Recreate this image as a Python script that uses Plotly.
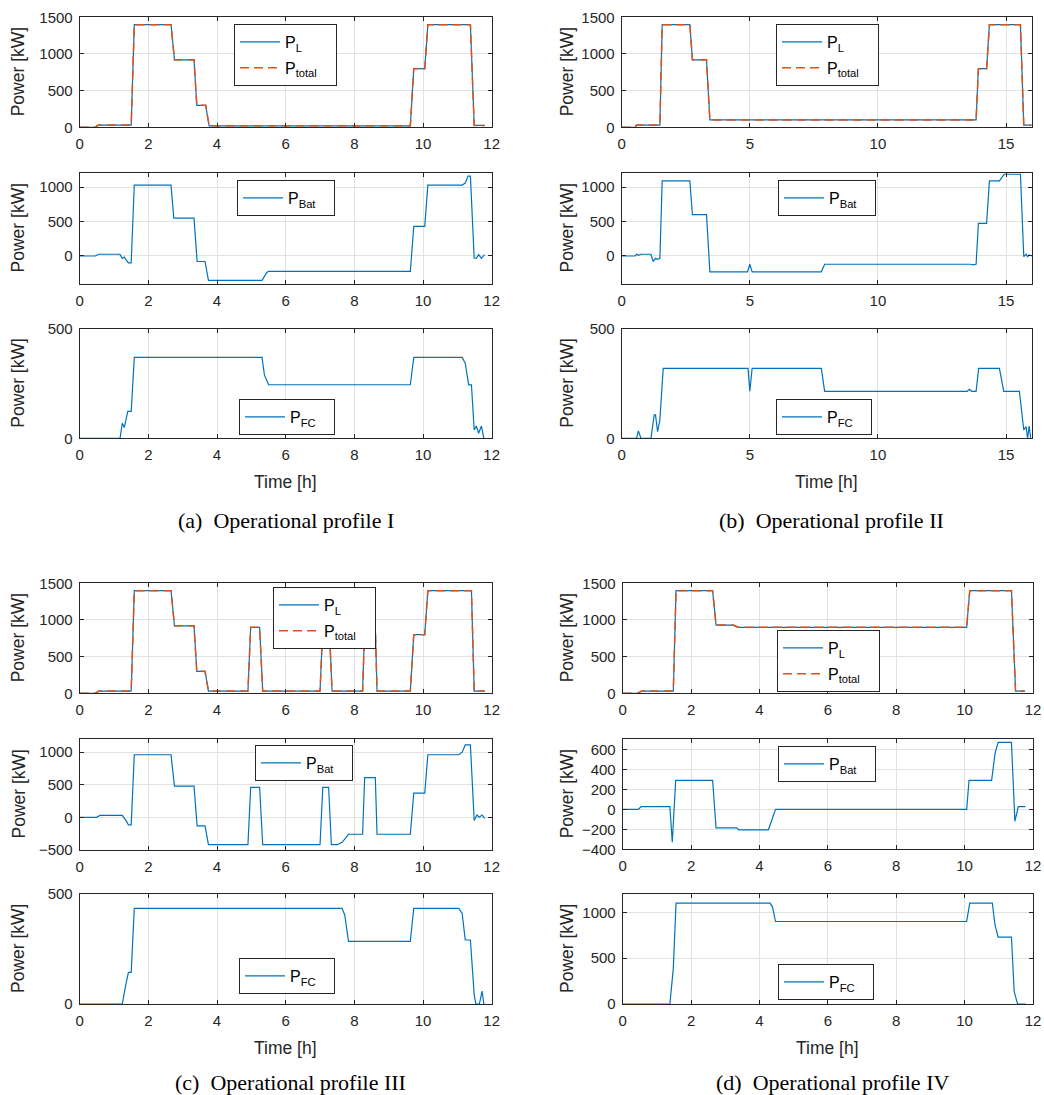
import plotly.graph_objects as go

# ---------------- data ----------------
# Profile I
tA_L = [0, 0.45, 0.54, 1.50, 1.59, 2.66, 2.76, 3.33, 3.41, 3.67, 3.77, 9.63, 9.73, 10.05, 10.14, 11.38, 11.49, 11.8]
pA_L = [0, 0, 30, 30, 1400, 1400, 920, 920, 300, 300, 20, 20, 800, 800, 1400, 1400, 25, 25]
tA_total = [0, 0.45, 0.54, 1.50, 1.59, 2.66, 2.76, 3.33, 3.41, 3.67, 3.77, 9.63, 9.73, 10.05, 10.14, 11.38, 11.49, 11.8]
pA_total = [0, 0, 30, 30, 1400, 1400, 920, 920, 300, 300, 20, 20, 800, 800, 1400, 1400, 25, 25]
tA_Bat = [0, 0.45, 0.56, 1.17, 1.24, 1.30, 1.34, 1.42, 1.50, 1.59, 2.66, 2.74, 3.33, 3.42, 3.65, 3.75,
          5.31, 5.38, 5.45, 5.5, 9.63, 9.73, 10.05, 10.14, 11.14, 11.23, 11.31, 11.38, 11.49, 11.55,
          11.62, 11.70, 11.79]
pA_Bat = [0, 0, 25, 25, -35, -15, -50, -100, -100, 1030, 1030, 550, 550, -80, -80, -355,
          -355, -300, -240, -225, -225, 430, 430, 1030, 1030, 1060, 1160, 1160, -30, -35,
          20, -35, 20]
tA_FC = [0, 1.175, 1.24, 1.30, 1.40, 1.50, 1.59, 5.31, 5.38, 5.5, 9.63, 9.73, 11.14, 11.23, 11.33,
         11.41, 11.49, 11.55, 11.62, 11.70, 11.77]
pA_FC = [0, 0, 69, 50, 123, 123, 370, 370, 290, 245, 245, 370, 370, 343, 244,
         244, 38, 56, 23, 56, 0]

# Profile II
tB_L = [0, 0.52, 0.58, 1.49, 1.58, 2.66, 2.76, 3.31, 3.44, 13.83, 13.92, 14.24, 14.35, 15.56, 15.69, 16.0]
pB_L = [0, 0, 30, 30, 1400, 1400, 920, 920, 100, 100, 800, 800, 1400, 1400, 30, 30]
tB_total = [0, 0.52, 0.58, 1.49, 1.58, 2.66, 2.76, 3.31, 3.44, 13.83, 13.92, 14.24, 14.35, 15.56, 15.69, 16.0]
pB_total = [0, 0, 30, 30, 1400, 1400, 920, 920, 100, 100, 800, 800, 1400, 1400, 30, 30]
tB_Bat = [0, 0.52, 0.58, 0.65, 0.75, 1.14, 1.23, 1.32, 1.40, 1.49, 1.58, 2.66, 2.76, 3.31, 3.44,
          4.91, 5.0, 5.09, 7.79, 7.92, 13.61, 13.70, 13.83, 13.92, 14.24, 14.35, 14.74, 14.93,
          15.56, 15.69, 15.78, 15.84, 15.90, 16.0]
pB_Bat = [0, 0, 25, 10, 25, 25, -80, -35, -50, -35, 1090, 1090, 600, 600, -230,
          -230, -120, -230, -230, -120, -120, -130, -120, 475, 475, 1090, 1090, 1190,
          1190, -10, 25, -10, 15, 0]
tB_FC = [0, 0.58, 0.65, 0.75, 1.14, 1.27, 1.32, 1.40, 1.49, 1.62, 4.93, 5.0, 5.09, 7.79, 7.92,
         13.48, 13.57, 13.66, 13.83, 13.93, 14.74, 14.91, 15.52, 15.69, 15.78, 15.84, 15.90, 15.96]
pB_FC = [0, 0, 34, 0, 0, 107, 107, 30, 84, 320, 320, 216, 320, 320, 215,
         215, 224, 215, 215, 320, 320, 215, 215, 38, 53, 0, 56, 0]

# Profile III
tC_L = [0, 0.45, 0.56, 1.50, 1.59, 2.66, 2.76, 3.33, 3.41, 3.65, 3.75, 4.90, 4.98, 5.24, 5.33,
        7.0, 7.08, 7.27, 7.35, 8.24, 8.30, 8.61, 8.66, 9.63, 9.73, 10.05, 10.14, 11.41, 11.49, 11.8]
pC_L = [0, 0, 30, 30, 1400, 1400, 920, 920, 300, 300, 30, 30, 900, 900, 30,
        30, 900, 900, 30, 30, 900, 900, 30, 30, 800, 800, 1400, 1400, 30, 30]
tC_total = [0, 0.45, 0.56, 1.50, 1.59, 2.66, 2.76, 3.33, 3.41, 3.65, 3.75, 4.90, 4.98, 5.24, 5.33,
            7.0, 7.08, 7.27, 7.35, 8.24, 8.30, 8.61, 8.66, 9.63, 9.73, 10.05, 10.14, 11.41, 11.49, 11.8]
pC_total = [0, 0, 30, 30, 1400, 1400, 920, 920, 300, 300, 30, 30, 900, 900, 30,
            30, 900, 900, 30, 30, 900, 900, 30, 30, 800, 800, 1400, 1400, 30, 30]
tC_Bat = [0, 0.49, 0.59, 1.24, 1.37, 1.42, 1.50, 1.59, 2.66, 2.76, 3.33, 3.42, 3.65, 3.75, 4.90,
          4.98, 5.24, 5.33, 7.0, 7.08, 7.25, 7.33, 7.5, 7.65, 7.83, 8.24, 8.30, 8.61, 8.66,
          9.63, 9.73, 10.05, 10.14, 11.04, 11.14, 11.23, 11.38, 11.49, 11.57, 11.64, 11.72, 11.8]
pC_Bat = [0, 0, 30, 30, -66, -117, -117, 960, 960, 480, 480, -130, -130, -420, -420,
          460, 460, -420, -420, 460, 460, -420, -420, -380, -260, -260, 610, 610, -260,
          -260, 370, 370, 960, 960, 1000, 1110, 1110, -50, 35, 0, 35, -15]
tC_FC = [0, 1.24, 1.34, 1.42, 1.50, 1.59, 7.64, 7.72, 7.83, 9.63, 9.73, 11.04, 11.14, 11.23,
         11.38, 11.49, 11.54, 11.64, 11.72, 11.77]
pC_FC = [0, 0, 86, 144, 144, 435, 435, 405, 285, 285, 435, 435, 412, 291,
         291, 41, 0, 0, 59, 0]

# Profile IV
tD_L = [0, 0.44, 0.55, 1.48, 1.56, 2.63, 2.73, 3.23, 3.38, 10.06, 10.15, 11.37, 11.49, 11.76]
pD_L = [0, 0, 30, 30, 1400, 1400, 930, 930, 900, 900, 1400, 1400, 30, 30]
tD_total = [0, 0.44, 0.55, 1.48, 1.56, 2.63, 2.73, 3.23, 3.38, 10.06, 10.15, 11.37, 11.49, 11.76]
pD_total = [0, 0, 30, 30, 1400, 1400, 930, 930, 900, 900, 1400, 1400, 30, 30]
tD_Bat = [0, 0.46, 0.54, 1.38, 1.45, 1.55, 2.63, 2.73, 3.33, 3.40, 4.26, 4.47, 10.06, 10.13,
          10.79, 10.89, 10.98, 11.37, 11.47, 11.57, 11.78]
pD_Bat = [0, 0, 27, 27, -330, 290, 290, -185, -185, -205, -205, 0, 0, 290,
          290, 560, 670, 670, -120, 27, 27]
tD_FC = [0, 1.38, 1.48, 1.56, 4.31, 4.38, 4.47, 10.06, 10.15, 10.81, 10.89, 10.98, 11.37, 11.45,
         11.55, 11.78]
pD_FC = [0, 0, 389, 1100, 1100, 1060, 900, 900, 1100, 1100, 862, 730, 730, 135,
         0, 0]

captions = ["(a)&nbsp;&nbsp;Operational profile I", "(b)&nbsp;&nbsp;Operational profile II",
            "(c)&nbsp;&nbsp;Operational profile III", "(d)&nbsp;&nbsp;Operational profile IV"]
y_label = "Power [kW]"
x_label = "Time [h]"

# ---------------- layout helpers ----------------
W, H = 1044, 1095
BLUE = '#0072BD'
ORANGE = '#D95319'
AXC = '#262626'
FONT = 'Liberation Sans, Arial, Helvetica, sans-serif'
SERIF = 'Liberation Serif, Times New Roman, serif'

def fx(p):
    return p / W

def fy(p):
    return 1 - p / H

def xd(a, b):
    return [fx(a), fx(b)]

def yd(top, bot):
    return [fy(bot), fy(top)]

LX = (79.7, 491.7)
RX = (621.7, 1031.7)
RX2 = (622.7, 1033.0)
ROW_U = [(17.3, 127.3), (173.4, 283.5), (329.0, 438.3)]
ROW_L = [(583.3, 693.3), (739.1, 849.9), (894.0, 1004.0)]

# panel specs: xdom, ydom, xrange, xticks, yrange, yticks, legend box (left, top)
panels = [
    (LX, ROW_U[0], [0, 12], [0, 2, 4, 6, 8, 10, 12], [0, 1500], [0, 500, 1000, 1500], (234, 24)),
    (LX, ROW_U[1], [0, 12], [0, 2, 4, 6, 8, 10, 12], [-400, 1200], [0, 500, 1000], (237, 180)),
    (LX, ROW_U[2], [0, 12], [0, 2, 4, 6, 8, 10, 12], [0, 500], [0, 500], (239, 399)),
    (RX, ROW_U[0], [0, 16], [0, 5, 10, 15], [0, 1500], [0, 500, 1000, 1500], (776, 24)),
    (RX, ROW_U[1], [0, 16], [0, 5, 10, 15], [-400, 1200], [0, 500, 1000], (778, 180)),
    (RX, ROW_U[2], [0, 16], [0, 5, 10, 15], [0, 500], [0, 500], (776, 399)),
    (LX, ROW_L[0], [0, 12], [0, 2, 4, 6, 8, 10, 12], [0, 1500], [0, 500, 1000, 1500], (273, 587)),
    (LX, ROW_L[1], [0, 12], [0, 2, 4, 6, 8, 10, 12], [-500, 1200], [-500, 0, 500, 1000], (255, 745)),
    (LX, ROW_L[2], [0, 12], [0, 2, 4, 6, 8, 10, 12], [0, 500], [0, 500], (239, 958)),
    (RX2, (583.3, 693.3), [0, 12], [0, 2, 4, 6, 8, 10, 12], [0, 1500], [0, 500, 1000, 1500], (777, 630)),
    (RX2, (739.3, 849.3), [0, 12], [0, 2, 4, 6, 8, 10, 12], [-400, 700], [-400, -200, 0, 200, 400, 600], (778, 746)),
    (RX2, (894.0, 1004.0), [0, 12], [0, 2, 4, 6, 8, 10, 12], [0, 1200], [0, 500, 1000], (778, 964)),
]

DASH = '9px,5px'
series = [
    [("P<sub>L</sub>", tA_L, pA_L, BLUE, 'solid'), ("P<sub>total</sub>", tA_total, pA_total, ORANGE, DASH)],
    [("P<sub>Bat</sub>", tA_Bat, pA_Bat, BLUE, 'solid')],
    [("P<sub>FC</sub>", tA_FC, pA_FC, BLUE, 'solid')],
    [("P<sub>L</sub>", tB_L, pB_L, BLUE, 'solid'), ("P<sub>total</sub>", tB_total, pB_total, ORANGE, DASH)],
    [("P<sub>Bat</sub>", tB_Bat, pB_Bat, BLUE, 'solid')],
    [("P<sub>FC</sub>", tB_FC, pB_FC, BLUE, 'solid')],
    [("P<sub>L</sub>", tC_L, pC_L, BLUE, 'solid'), ("P<sub>total</sub>", tC_total, pC_total, ORANGE, DASH)],
    [("P<sub>Bat</sub>", tC_Bat, pC_Bat, BLUE, 'solid')],
    [("P<sub>FC</sub>", tC_FC, pC_FC, BLUE, 'solid')],
    [("P<sub>L</sub>", tD_L, pD_L, BLUE, 'solid'), ("P<sub>total</sub>", tD_total, pD_total, ORANGE, DASH)],
    [("P<sub>Bat</sub>", tD_Bat, pD_Bat, BLUE, 'solid')],
    [("P<sub>FC</sub>", tD_FC, pD_FC, BLUE, 'solid')],
]

fig = go.Figure()
layout = dict(
    width=W, height=H, margin=dict(l=0, r=0, t=0, b=0, autoexpand=False),
    paper_bgcolor='white', plot_bgcolor='white',
    font=dict(family=FONT, color=AXC),
    showlegend=True, hovermode=False,
)

annotations = []
for i, (xdom, ydom, xr, xt, yr, yt, lg) in enumerate(panels):
    n = i + 1
    sfx = '' if n == 1 else str(n)
    axstyle = dict(showline=True, linecolor=AXC, linewidth=1, mirror='ticks',
                   ticks='inside', ticklen=4, tickcolor=AXC, tickwidth=1,
                   showgrid=True, gridcolor='#e2e2e2', gridwidth=1, zeroline=False,
                   automargin=False, ticklabelstandoff=3,
                   tickfont=dict(family=FONT, size=15, color=AXC))
    layout['xaxis' + sfx] = dict(domain=xd(*xdom), range=xr, tickvals=xt,
                                 anchor='y' + sfx, **axstyle)
    layout['yaxis' + sfx] = dict(domain=yd(*ydom), range=yr, tickvals=yt,
                                 anchor='x' + sfx, **axstyle)
    lname = 'legend' + sfx
    layout[lname] = dict(x=fx(lg[0]), y=fy(lg[1]), xanchor='left', yanchor='top',
                         bgcolor='white', bordercolor=AXC, borderwidth=1,
                         font=dict(family=FONT, size=16, color='black'),
                         tracegroupgap=2, itemwidth=40)
    for k, (name, tx, ty, col, dash) in enumerate(series[i]):
        fig.add_trace(go.Scatter(x=tx, y=ty, mode='lines', name=name + '&nbsp;&nbsp;&nbsp;',
                                 line=dict(color=col, width=1.2 if dash == 'solid' else 1.5, dash=dash),
                                 xaxis='x' + sfx, yaxis='y' + sfx, legend=lname,
                                 legendgroup='g%d_%d' % (n, k)))
    # y-axis label
    xc = 18 if xdom[0] < 300 else 567
    annotations.append(dict(x=fx(xc), y=fy((ydom[0] + ydom[1]) / 2), xref='paper', yref='paper',
                            text=y_label, textangle=-90, showarrow=False,
                            font=dict(family=FONT, size=17.5, color=AXC),
                            xanchor='center', yanchor='middle'))

# x labels and captions
for cx, ty, capx, cy, cap in [(285.7, 482, 286, 520, captions[0]), (826.7, 482, 831, 520, captions[1]),
                              (285.7, 1048, 290, 1082, captions[2]), (827.8, 1048, 832, 1082, captions[3])]:
    annotations.append(dict(x=fx(cx), y=fy(ty), xref='paper', yref='paper', text=x_label,
                            showarrow=False, font=dict(family=FONT, size=17.5, color=AXC),
                            xanchor='center', yanchor='middle'))
    annotations.append(dict(x=fx(capx), y=fy(cy), xref='paper', yref='paper', text=cap,
                            showarrow=False, font=dict(family=SERIF, size=22, color='black'),
                            xanchor='center', yanchor='middle'))

layout['annotations'] = annotations
fig.update_layout(**layout)

fig.write_html("out.html", config={'displayModeBar': False},
               post_script="document.body.style.margin='0px';")
